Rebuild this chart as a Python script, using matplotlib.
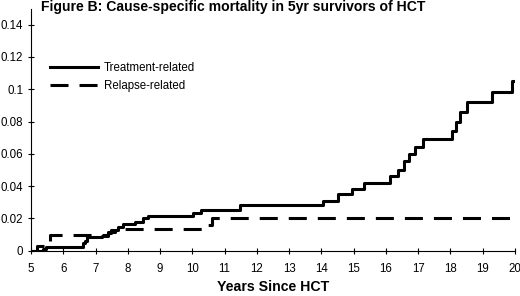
import numpy as np
import matplotlib
matplotlib.use('Agg')
import matplotlib.pyplot as plt
from matplotlib.ticker import FuncFormatter

# Cumulative incidence, step data (time in years since HCT)
treat_years = [5.0, 5.37, 5.47, 6.61, 6.68, 6.75, 7.2, 7.39, 7.49, 7.70, 7.85,
               8.21, 8.47, 8.63, 10.02, 10.27, 11.48, 14.04, 14.5, 14.96,
               15.31, 16.12, 16.37, 16.55, 16.73, 16.89, 17.15, 18.04, 18.17,
               18.3, 18.5, 19.3, 19.9, 20.0]
treat_cum = [0.0, 0.001, 0.0025, 0.0045, 0.006, 0.0083, 0.0092, 0.0112,
             0.0128, 0.0149, 0.0165, 0.018, 0.020, 0.0217, 0.0235, 0.0252,
             0.0285, 0.031, 0.0351, 0.0385, 0.0421, 0.046, 0.0503, 0.0555,
             0.0600, 0.0644, 0.0692, 0.0742, 0.0799, 0.0861, 0.0919, 0.0985,
             0.1053, 0.1053]

relapse_years = [5.0, 5.2, 5.45, 5.6, 7.4, 7.6, 10.45, 10.62, 20.0]
relapse_cum = [0.0, 0.003, 0.0045, 0.0095, 0.0115, 0.0135, 0.016, 0.020, 0.020]

x_ticks = list(range(5, 21))
y_ticks = [0, 0.02, 0.04, 0.06, 0.08, 0.1, 0.12, 0.14]

plt.rcParams['font.family'] = ['Liberation Sans', 'DejaVu Sans']

fig = plt.figure(figsize=(5.2, 2.96), dpi=100)
ax = fig.add_axes([31 / 520, 45.3 / 296, 484 / 520, 0.818])

ax.step(treat_years, treat_cum, where='post', color='black', lw=2.2,
        label='Treatment-related')
ax.step(relapse_years, relapse_cum, where='post', color='black', lw=2.2,
        linestyle=(0, (5.9, 3.6)), label='Relapse-related')

ax.set_xlim(5, 20)
ax.set_ylim(0, 0.15)
ax.set_xticks(x_ticks)
ax.set_yticks(y_ticks)
ax.yaxis.set_major_formatter(FuncFormatter(lambda v, p: f'{v:g}'))

for side in ['top', 'right']:
    ax.spines[side].set_visible(False)
for side in ['left', 'bottom']:
    ax.spines[side].set_linewidth(0.8)
ax.tick_params(direction='inout', length=4.5, width=0.8, labelsize=8.3)
ax.tick_params(axis='x', pad=6.5)
ax.tick_params(axis='y', pad=3.5)

ax.set_xlabel('Years Since HCT', fontsize=10.2, fontweight='bold',
              labelpad=4)

leg = ax.legend(loc='upper left', bbox_to_anchor=(0.04, 0.78), frameon=False,
                fontsize=8.3, handlelength=4.1, handletextpad=0.55,
                labelspacing=0.55, borderpad=0, borderaxespad=0)

fig.text(41 / 520, 1 - 0.5 / 296, 'Figure B: Cause-specific mortality in 5yr '
         'survivors of HCT', fontsize=10.1, fontweight='bold', ha='left',
         va='top')

fig.savefig('out.png', dpi=100)
